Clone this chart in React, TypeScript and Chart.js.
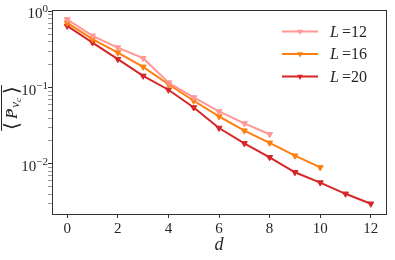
import React, { useEffect, useRef } from 'react';
import { Chart, registerables } from 'chart.js';

Chart.register(...registerables);

const distances = [0, 1, 2, 3, 4, 5, 6, 7, 8, 9, 10, 11, 12];
const seriesL12 = [0.79, 0.48, 0.336, 0.244, 0.117, 0.0744, 0.0488, 0.034, 0.0245];
const seriesL16 = [0.71, 0.433, 0.289, 0.188, 0.111, 0.0674, 0.042, 0.0273, 0.0189, 0.0128, 0.009];
const seriesL20 = [0.646, 0.391, 0.237, 0.143, 0.094, 0.055, 0.0296, 0.0186, 0.0122, 0.00776, 0.00569, 0.00405, 0.003];
const seriesSizes = ['12', '16', '20'];
const seriesColors = ['#ff9896', '#ff7f0e', '#d62728'];
const xTicks = [0, 2, 4, 6, 8, 10, 12];
const yMajorTicks = [0.01, 0.1, 1];
const yMajorExponents = ['\u22122', '\u22121', '0'];
const yMinorTicks = [0.003, 0.004, 0.005, 0.006, 0.007, 0.008, 0.009, 0.02, 0.03, 0.04, 0.05, 0.06, 0.07, 0.08, 0.09, 0.2, 0.3, 0.4, 0.5, 0.6, 0.7, 0.8, 0.9];

const SERIF = "'Liberation Serif', 'DejaVu Serif', serif";
const TEXT = '#262626';
const SPINE = '#333333';

const decorPlugin = {
  id: 'decor',
  afterDraw(chart: any) {
    const ctx = chart.ctx as CanvasRenderingContext2D;
    const area = chart.chartArea;
    const yScale = chart.scales.y;
    ctx.save();
    // frame
    ctx.strokeStyle = SPINE;
    ctx.lineWidth = 1;
    ctx.strokeRect(Math.round(area.left) + 0.5, Math.round(area.top) + 0.5,
      Math.round(area.right - area.left), Math.round(area.bottom - area.top));

    // y tick labels 10^k
    ctx.fillStyle = TEXT;
    ctx.textBaseline = 'alphabetic';
    yMajorTicks.forEach((v, i) => {
      const py = yScale.getPixelForValue(v);
      const exp = yMajorExponents[i];
      ctx.font = `11px ${SERIF}`;
      const ew = ctx.measureText(exp).width;
      const right = area.left - 4;
      ctx.textAlign = 'right';
      ctx.fillText(exp, right, py + 1);
      ctx.font = `15px ${SERIF}`;
      ctx.fillText('10', right - ew, py + 7);
    });

    // x title
    ctx.font = `italic 18px ${SERIF}`;
    ctx.textAlign = 'center';
    ctx.textBaseline = 'alphabetic';
    ctx.fillText('d', (area.left + area.right) / 2, 250);

    // y title: overline < P^ _{v_c} >
    ctx.save();
    ctx.translate(0, 108);
    ctx.rotate(-Math.PI / 2);
    const base = 16.5; // baseline distance from left edge
    const parts: { t: string; font: string; dy: number }[] = [
      { t: '\u27E8', font: `20px ${SERIF}`, dy: 1 },
      { t: 'P', font: `italic 17px ${SERIF}`, dy: 0 },
      { t: 'v', font: `italic 13px ${SERIF}`, dy: 2.5 },
      { t: 'c', font: `italic 9px ${SERIF}`, dy: 4.5 },
      { t: '\u27E9', font: `20px ${SERIF}`, dy: 1 },
    ];
    const widths = parts.map(p => { ctx.font = p.font; return ctx.measureText(p.t).width; });
    const gaps = [3, 1, 0, 4, 0];
    const total = widths.reduce((a, b) => a + b, 0) + gaps.reduce((a, b) => a + b, 0);
    let cx = -total / 2;
    ctx.textAlign = 'left';
    let pX = 0;
    parts.forEach((p, i) => {
      ctx.font = p.font;
      if (p.t === 'P') pX = cx;
      ctx.fillText(p.t, cx, base + p.dy);
      cx += widths[i] + gaps[i];
    });
    // hat
    ctx.font = `12px ${SERIF}`;
    ctx.fillText('\u02C6', pX + 5, base + 0.5);
    // overline
    ctx.strokeStyle = TEXT;
    ctx.lineWidth = 1;
    ctx.beginPath();
    ctx.moveTo(-total / 2 - 1, 1.5);
    ctx.lineTo(total / 2 + 1, 1.5);
    ctx.stroke();
    ctx.restore();

    // legend
    const lx0 = 282, lx1 = 318, tx = 330;
    chart.data.datasets.forEach((ds: any, i: number) => {
      const y = 31.5 + i * 22.5;
      ctx.strokeStyle = ds.borderColor;
      ctx.lineWidth = 2;
      ctx.beginPath();
      ctx.moveTo(lx0, y);
      ctx.lineTo(lx1, y);
      ctx.stroke();
      ctx.fillStyle = ds.borderColor;
      ctx.beginPath();
      const r = 3.5;
      const mx = (lx0 + lx1) / 2;
      ctx.moveTo(mx - r * 0.866, y - r * 0.5);
      ctx.lineTo(mx + r * 0.866, y - r * 0.5);
      ctx.lineTo(mx, y + r);
      ctx.closePath();
      ctx.fill();
      ctx.fillStyle = TEXT;
      ctx.textAlign = 'left';
      ctx.textBaseline = 'alphabetic';
      ctx.font = `italic 16px ${SERIF}`;
      ctx.fillText('L', tx, y + 5);
      const lw = ctx.measureText('L').width;
      ctx.font = `16px ${SERIF}`;
      ctx.fillText('=' + seriesSizes[i], tx + lw + 3, y + 5);
    });
    ctx.restore();
  },
};

function toPoints(values: number[]) {
  return values.map((v, i) => ({ x: distances[i], y: v }));
}

export default function App() {
  const canvasRef = useRef<HTMLCanvasElement | null>(null);

  useEffect(() => {
    if (!canvasRef.current) return;
    const allSeries = [seriesL12, seriesL16, seriesL20];
    const chart = new Chart(canvasRef.current, {
      type: 'line',
      data: {
        datasets: allSeries.map((s, i) => ({
          label: 'L =' + seriesSizes[i],
          data: toPoints(s),
          borderColor: seriesColors[i],
          backgroundColor: seriesColors[i],
          borderWidth: 2,
          pointStyle: 'triangle',
          rotation: 180,
          pointRadius: 3.5,
          pointBorderWidth: 1,
          pointBackgroundColor: seriesColors[i],
          pointBorderColor: seriesColors[i],
          fill: false,
          tension: 0,
        })),
      },
      options: {
        responsive: false,
        animation: false,
        events: [],
        layout: { padding: { top: 10, right: 9, left: 0, bottom: 0 } },
        plugins: { legend: { display: false }, tooltip: { enabled: false } },
        scales: {
          x: {
            type: 'linear',
            min: -0.6,
            max: 12.6,
            afterBuildTicks: (scale: any) => {
              scale.ticks = xTicks.map(v => ({ value: v }));
            },
            afterFit: (scale: any) => { scale.height = 46; },
            ticks: {
              autoSkip: false,
              maxRotation: 0,
              padding: 2,
              color: TEXT,
              font: { family: SERIF, size: 15 },
              callback: (v: any) => String(v),
            },
            grid: { drawOnChartArea: false, drawTicks: true, tickLength: 4, tickColor: SPINE, tickWidth: 1 },
            border: { display: false },
          },
          y: {
            type: 'logarithmic',
            min: 0.0022,
            max: 1.04,
            afterBuildTicks: (scale: any) => {
              const vals = [...yMinorTicks, ...yMajorTicks].sort((a, b) => a - b);
              scale.ticks = vals.map(v => ({ value: v, major: yMajorTicks.includes(v) }));
            },
            afterFit: (scale: any) => { scale.width = 52; },
            ticks: {
              autoSkip: false,
              color: TEXT,
              callback: () => '',
            },
            grid: {
              drawOnChartArea: false,
              drawTicks: true,
              tickLength: 4,
              tickColor: (c: any) => (c.tick && c.tick.major ? SPINE : '#555555'),
              tickWidth: (c: any) => (c.tick && c.tick.major ? 1 : 0.6),
            },
            border: { display: false },
          },
        },
      },
      plugins: [decorPlugin],
    } as any);
    return () => chart.destroy();
  }, []);

  return (
    <div style={{ position: 'absolute', left: 0, top: 0, width: 395, height: 260, background: '#fff' }}>
      <canvas ref={canvasRef} width={395} height={260} />
    </div>
  );
}
